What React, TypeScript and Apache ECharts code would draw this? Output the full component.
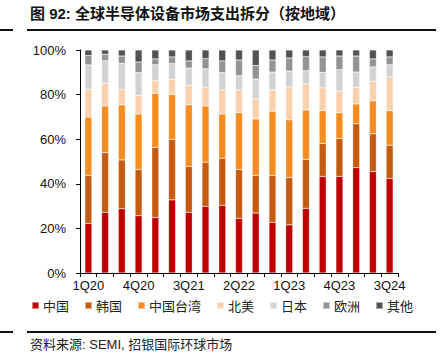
import React, { useEffect, useRef } from "react";
import * as echarts from "echarts";

const categories = [
  "1Q20", "2Q20", "3Q20", "4Q20", "1Q21", "2Q21", "3Q21", "4Q21",
  "1Q22", "2Q22", "3Q22", "4Q22", "1Q23", "2Q23", "3Q23", "4Q23",
  "1Q24", "2Q24", "3Q24",
];

const china = [22.2, 27.2, 28.8, 25.7, 24.9, 32.8, 27.2, 29.9, 30.3, 24.5, 26.9, 22.7, 21.6, 29.0, 43.3, 43.3, 47.3, 45.5, 42.4];
const korea = [21.5, 26.8, 21.9, 20.7, 31.4, 27.1, 20.6, 19.8, 21.2, 21.9, 16.8, 21.0, 21.2, 21.9, 14.8, 17.0, 19.6, 16.9, 14.9];
const taiwan = [26.2, 20.9, 24.7, 24.9, 24.3, 20.1, 27.6, 25.2, 19.8, 25.5, 25.4, 28.8, 25.9, 22.2, 14.7, 11.6, 8.9, 14.8, 15.5];
const northAmerica = [12.5, 10.2, 7.0, 8.4, 5.7, 6.9, 8.8, 8.4, 10.8, 10.2, 9.0, 9.6, 14.7, 11.7, 10.2, 9.7, 7.5, 8.8, 15.1];
const japan = [10.9, 10.1, 11.6, 10.2, 7.1, 7.0, 7.7, 8.3, 7.8, 6.4, 8.9, 8.0, 7.2, 5.9, 7.0, 9.6, 6.8, 6.4, 5.5];
const europe = [4.2, 2.9, 3.3, 4.7, 2.6, 3.0, 3.2, 4.5, 5.2, 7.0, 6.0, 5.4, 5.8, 6.3, 6.9, 6.1, 7.2, 3.6, 3.5];
const other = [2.5, 1.9, 2.7, 5.4, 4.0, 3.1, 4.9, 3.9, 4.9, 4.5, 7.0, 4.5, 3.6, 3.0, 3.1, 2.7, 2.7, 4.0, 3.1];

const seriesNames = ["中国", "韩国", "中国台湾", "北美", "日本", "欧洲", "其他"];
const seriesData = [china, korea, taiwan, northAmerica, japan, europe, other];
const colors = ["#C00000", "#C55A11", "#F68B1F", "#FBD0AC", "#D2D2D2", "#939393", "#525252"];

const yTicks = [0, 20, 40, 60, 80, 100];

export default function App() {
  const ref = useRef<HTMLDivElement>(null);

  useEffect(() => {
    if (!ref.current) return;
    const chart = echarts.init(ref.current, null, { renderer: "svg" });
    const latin = "'Liberation Sans', Arial, 'Noto Sans CJK SC', sans-serif";
    const cjk = "'Noto Sans CJK SC', sans-serif";
    chart.setOption({
      animation: false,
      backgroundColor: "#ffffff",
      color: colors,
      grid: { left: 80, right: 46, top: 50, bottom: 81, containLabel: false },
      legend: {
        data: seriesNames,
        bottom: 37,
        left: "center",
        itemWidth: 7,
        itemHeight: 7,
        itemGap: 15,
        icon: "rect",
        textStyle: { fontSize: 13, color: "#222", fontFamily: cjk, padding: [0, 0, 0, -1] },
      },
      xAxis: {
        type: "category",
        data: categories,
        boundaryGap: true,
        axisLine: { lineStyle: { color: "#000", width: 1 } },
        axisTick: { show: true, interval: 0, length: 4, lineStyle: { color: "#000" } },
        axisLabel: { interval: 2, fontSize: 13, color: "#111", fontFamily: latin, margin: 6 },
      },
      yAxis: {
        type: "value",
        min: yTicks[0],
        max: yTicks[yTicks.length - 1],
        interval: 20,
        axisLine: { show: true, lineStyle: { color: "#000", width: 1 } },
        axisTick: { show: true, length: 4, lineStyle: { color: "#000" } },
        splitLine: { show: false },
        axisLabel: { formatter: "{value}%", fontSize: 13, color: "#111", fontFamily: latin, margin: 14 },
      },
      series: seriesNames.map((name, i) => ({
        name,
        type: "bar",
        stack: "total",
        barWidth: "42%",
        data: seriesData[i],
        itemStyle: { color: colors[i], borderColor: "rgba(255,255,255,0.5)", borderWidth: 0.5 },
      })),
      graphic: [
        {
          type: "text",
          left: 30,
          top: 6,
          style: {
            text: "图 92: 全球半导体设备市场支出拆分（按地域）",
            font: "bold 15px " + "'Liberation Sans', 'Noto Sans CJK SC', sans-serif",
            fill: "#111",
          },
        },
        { type: "line", shape: { x1: 0, y1: 30, x2: 13, y2: 30 }, style: { stroke: "#111", lineWidth: 2 } },
        { type: "line", shape: { x1: 27, y1: 30, x2: 436, y2: 30 }, style: { stroke: "#111", lineWidth: 2 } },
        { type: "line", shape: { x1: 0, y1: 332, x2: 13, y2: 332 }, style: { stroke: "#111", lineWidth: 2 } },
        { type: "line", shape: { x1: 27, y1: 332, x2: 436, y2: 332 }, style: { stroke: "#111", lineWidth: 2 } },
        {
          type: "text",
          left: 30,
          top: 338,
          style: {
            text: "资料来源: SEMI, 招银国际环球市场",
            font: "13px " + "'Liberation Sans', 'Noto Sans CJK SC', sans-serif",
            fill: "#222",
          },
        },
      ],
    });
    return () => chart.dispose();
  }, []);

  return (
    <div
      ref={ref}
      style={{ width: 444, height: 354, position: "absolute", left: 0, top: 0 }}
    />
  );
}
